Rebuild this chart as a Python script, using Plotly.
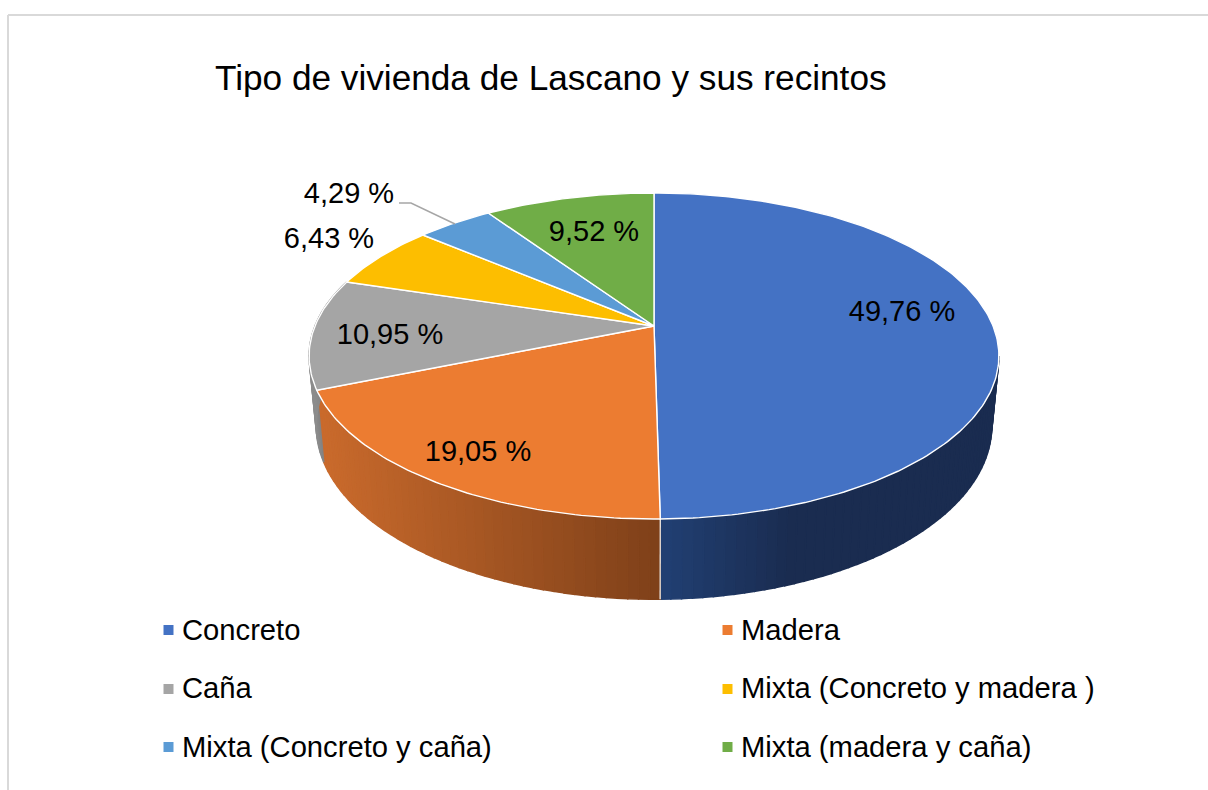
import numpy as np
import plotly.graph_objects as go

TITLE = "Tipo de vivienda de Lascano y sus recintos"
categories = ["Concreto", "Madera", "Caña", "Mixta (Concreto y madera )", "Mixta (Concreto y caña)", "Mixta (madera y caña)"]
values = [49.76, 19.05, 10.95, 6.43, 4.29, 9.52]
colors = ["#4472C4", "#EC7C31", "#A5A5A5", "#FDBE00", "#5B9BD5", "#70AD47"]
label_x = [902, 478, 390, 329, 349, 594]
label_y = [314, 454, 337, 241, 196, 234]
legend_x = [168.5, 727.5, 168.5, 727.5, 168.5, 727.5]
legend_y = [630, 630, 689, 689, 747, 747]
legend_text_y = [633, 633, 691, 691, 750, 750]
wall_stops = {0: (660, "#214074", 790, "#1A2C50"), 1: (322, "#C96A2C", 660, "#7E4019"), 2: (310, "#8C8C8C", 322, "#7A7A7A")}

FONT = "Liberation Sans, Arial, sans-serif"
AX, BX, K = 339.0, 157.5, 0.184
CX, CY = 654.0, 326.0
AX2, BX2, Y2 = 332.0, 167.5, 394.0


def top(theta):
    u, v = np.sin(theta), np.cos(theta)
    d = 1 + K * v
    return CX + AX * u / d, CY - BX * v / d


def bottom(theta):
    u, v = np.sin(theta), np.cos(theta)
    d = 1 + K * v
    return CX + AX2 * u / d, Y2 - BX2 * v / d


def hex2rgb(h):
    return np.array([int(h[i:i + 2], 16) for i in (1, 3, 5)], dtype=float)


def wall_color(i, x):
    x0, c0, x1, c1 = wall_stops[i]
    t = min(1.0, max(0.0, (x - x0) / (x1 - x0)))
    c = hex2rgb(c0) * (1 - t) + hex2rgb(c1) * t
    return "rgb(%d,%d,%d)" % tuple(c.round())


fig = go.Figure()
edges = np.radians(np.cumsum([0] + values) / sum(values) * 360)

# side walls (front-facing part only)
for i in range(len(values)):
    a, b = edges[i], edges[i + 1]
    start = max(a, np.arccos(-K)) if i < 3 else a
    if i >= 3 or start >= b:
        continue
    n = max(2, int(np.degrees(b - start) / 1.5))
    ts = np.linspace(start, b, n + 1)
    for t0, t1 in zip(ts[:-1], ts[1:]):
        x0, y0 = top(t0)
        x1, y1 = top(t1)
        x2, y2 = bottom(t1)
        x3, y3 = bottom(t0)
        col = wall_color(i, (x0 + x1) / 2)
        fig.add_trace(go.Scatter(x=[x0, x1, x2, x3, x0], y=[y0, y1, y2, y3, y0], mode="lines",
                                 fill="toself", fillcolor=col, line=dict(color=col, width=1.5),
                                 hoverinfo="skip", showlegend=False))

# white seam on the wall between first two slices
sx0, sy0 = top(edges[1])
sx1, sy1 = bottom(edges[1])
fig.add_trace(go.Scatter(x=[sx0, sx1], y=[sy0, sy1], mode="lines", line=dict(color="#F2F2F2", width=1.2),
                         hoverinfo="skip", showlegend=False))

# top faces
for i, cat in enumerate(categories):
    ts = np.linspace(edges[i], edges[i + 1], max(8, int(values[i] * 4)))
    x, y = top(ts)
    fig.add_trace(go.Scatter(x=np.r_[CX, x, CX], y=np.r_[CY, y, CY], mode="lines", name=cat,
                             fill="toself", fillcolor=colors[i], line=dict(color="#FFFFFF", width=1.4),
                             hoverinfo="name", showlegend=False))

# leader line for the smallest slice
fig.add_trace(go.Scatter(x=[399, 411, 455], y=[203, 203, 224], mode="lines",
                         line=dict(color="#A6A6A6", width=1.5), hoverinfo="skip", showlegend=False))

# value labels
labels = [f"{v:.2f}".replace(".", ",") + " %" for v in values]
fig.add_trace(go.Scatter(x=label_x, y=label_y, mode="text", text=labels, textposition="middle center",
                         textfont=dict(family=FONT, size=29, color="#000000"),
                         hoverinfo="skip", showlegend=False))

# legend
fig.add_trace(go.Scatter(x=legend_x, y=legend_y, mode="markers",
                         marker=dict(symbol="square", size=10, color=colors, line=dict(width=0)),
                         hoverinfo="skip", showlegend=False))
fig.add_trace(go.Scatter(x=[v + 13.5 for v in legend_x], y=legend_text_y, mode="text", text=categories,
                         textposition="middle right",
                         textfont=dict(family=FONT, size=29.2, color="#000000"),
                         hoverinfo="skip", showlegend=False))

fig.update_layout(
    width=1208, height=790, margin=dict(l=0, r=0, t=0, b=0),
    paper_bgcolor="#FFFFFF", plot_bgcolor="#FFFFFF",
    title=dict(text=TITLE, x=215 / 1208, xanchor="left", xref="paper", y=1 - 78 / 790, yanchor="middle",
               yref="paper", font=dict(family=FONT, size=35.2, color="#000000")),
    xaxis=dict(range=[0, 1208], visible=False, fixedrange=True),
    yaxis=dict(range=[790, 0], visible=False, fixedrange=True),
    shapes=[
        dict(type="line", xref="x", yref="y", x0=8, y0=15, x1=1208, y1=15, line=dict(color="#D9D9D9", width=2)),
        dict(type="line", xref="x", yref="y", x0=8, y0=15, x1=8, y1=790, line=dict(color="#D9D9D9", width=2)),
    ],
)
fig.write_html("out.html", config={"displayModeBar": False},
               post_script="document.body.style.margin='0';document.documentElement.style.overflow='hidden';")
